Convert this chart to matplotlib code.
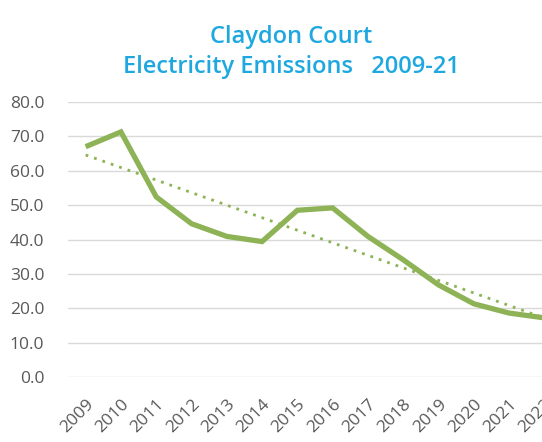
import matplotlib
matplotlib.use("Agg")
import matplotlib.pyplot as plt
import numpy as np

# ── data ──────────────────────────────────────────────────────────────────────
years = ["2009", "2010", "2011", "2012", "2013", "2014", "2015",
         "2016", "2017", "2018", "2019", "2020", "2021", "2022"]
emissions = [67.0, 71.3, 52.4, 44.6, 40.9, 39.4, 48.5,
             49.2, 40.9, 34.1, 26.8, 21.3, 18.6, 17.2]
y_ticks = [0, 10, 20, 30, 40, 50, 60, 70, 80]

title = "Claydon Court\nElectricity Emissions   2009-21"

GREEN = "#8DB356"
BLUE = "#1FA8E0"
GREY = "#595959"

plt.rcParams["font.family"] = ["Open Sans", "DejaVu Sans"]

fig = plt.figure(figsize=(5.42, 4.42), dpi=100)
# axes run off the right edge, as in the cropped original
ax = fig.add_axes([68 / 542, 1 - 377 / 442, 494 / 542, 275 / 442])

xs = np.arange(len(years))
ax.plot(xs, emissions, color=GREEN, lw=3.8, solid_joinstyle="miter",
        solid_capstyle="butt", zorder=3)

# linear trendline
coef = np.polyfit(xs, emissions, 1)
ax.plot(xs, np.polyval(coef, xs), color=GREEN, lw=2.0,
        linestyle=(0, (1, 2.2)), zorder=2)

ax.set_xlim(-0.5, len(years) - 0.5)
ax.set_ylim(0, 80)
ax.set_yticks(y_ticks)
ax.set_yticklabels([f"{v:.1f}" for v in y_ticks])
ax.set_xticks(xs)
ax.set_xticklabels(years, rotation=45, ha="right", rotation_mode="anchor")

ax.grid(True, axis="y", color="#D9D9D9", lw=1.0)
ax.set_axisbelow(True)
for s in ax.spines.values():
    s.set_visible(False)
ax.tick_params(axis="both", length=0, colors=GREY, labelsize=12.5)
ax.tick_params(axis="y", pad=17)
ax.tick_params(axis="x", pad=14)

fig.text(0.538, 1 - 73 / 442, title, ha="center", va="baseline",
         color=BLUE, fontsize=17, fontweight="semibold", linespacing=1.35)

fig.savefig("out.png", dpi=100)
